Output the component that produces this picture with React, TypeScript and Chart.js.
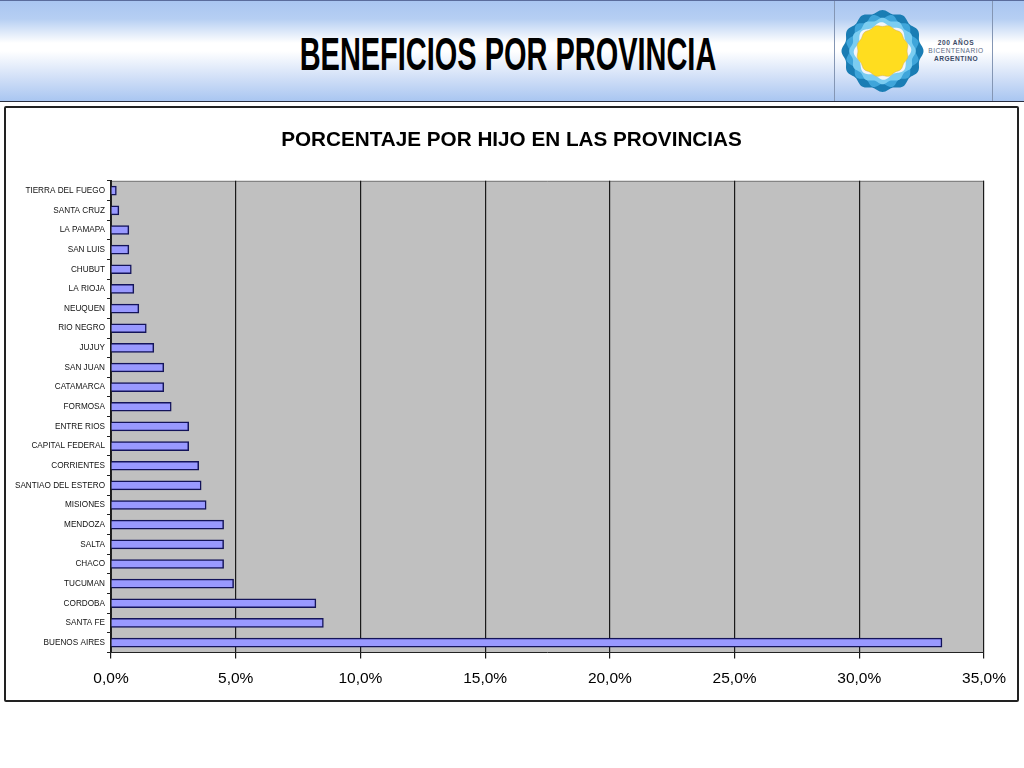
import React, { useEffect, useRef } from "react";
import { Chart, registerables } from "chart.js";

Chart.register(...registerables);

const provinces = [
  "TIERRA DEL FUEGO", "SANTA CRUZ", "LA PAMAPA", "SAN LUIS", "CHUBUT", "LA RIOJA",
  "NEUQUEN", "RIO NEGRO", "JUJUY", "SAN JUAN", "CATAMARCA", "FORMOSA", "ENTRE RIOS",
  "CAPITAL FEDERAL", "CORRIENTES", "SANTIAO DEL ESTERO", "MISIONES", "MENDOZA",
  "SALTA", "CHACO", "TUCUMAN", "CORDOBA", "SANTA FE", "BUENOS AIRES",
];
const percentages = [
  0.2, 0.3, 0.7, 0.7, 0.8, 0.9, 1.1, 1.4, 1.7, 2.1, 2.1, 2.4, 3.1, 3.1, 3.5, 3.6,
  3.8, 4.5, 4.5, 4.5, 4.9, 8.2, 8.5, 33.3,
];
const chartTitle = "PORCENTAJE POR HIJO EN LAS PROVINCIAS";
const pageTitle = "BENEFICIOS POR PROVINCIA";
const logoLines = ["200 AÑOS", "BICENTENARIO", "ARGENTINO"];

const FONT = '"Liberation Sans", Arial, sans-serif';

const plotBackground = {
  id: "plotBackground",
  afterLayout(chart: any) {
    // the long province labels run past the axis box, so let them draw there
    chart.scales.y.left = 0;
  },
  beforeDraw(chart: any) {
    const { ctx, chartArea: a } = chart;
    ctx.save();
    ctx.fillStyle = "#C0C0C0";
    ctx.fillRect(a.left, a.top, a.right - a.left, a.bottom - a.top);
    ctx.strokeStyle = "#777777";
    ctx.lineWidth = 1;
    ctx.beginPath();
    ctx.moveTo(a.left, a.top + 0.5);
    ctx.lineTo(a.right, a.top + 0.5);
    ctx.moveTo(a.right - 0.5, a.top);
    ctx.lineTo(a.right - 0.5, a.bottom);
    ctx.stroke();
    ctx.restore();
  },
};

function wavy(cx: number, cy: number, r: number, amp: number, lobes: number, phase: number) {
  let d = "";
  for (let i = 0; i < 180; i++) {
    const t = (i / 180) * Math.PI * 2;
    const rr = r + amp * Math.cos(lobes * t + phase);
    d += `${i ? "L" : "M"}${(cx + rr * Math.cos(t)).toFixed(2)} ${(cy + rr * Math.sin(t)).toFixed(2)}`;
  }
  return d + "Z";
}

function Logo() {
  const cx = 882.5;
  const cy = 51;
  return (
    <svg width={1024} height={102} style={{ position: "absolute", left: 0, top: 0 }}>
      <path d={wavy(cx, cy, 39.5, 1.5, 12, 0)} fill="#1A7DB4" />
      <path d={wavy(cx, cy, 35, 2.2, 12, Math.PI)} fill="#3FA5DA" />
      <path d={wavy(cx, cy, 32, 1.3, 12, 0)} fill="#7BCDF1" />
      <path d={wavy(cx, cy, 27, 1.8, 8, 0.4)} fill="#F4F5F8" />
      <path d={wavy(cx, cy, 25.3, 0.7, 12, Math.PI)} fill="#FFDD1F" stroke="#C9A864" strokeWidth={0.5} />
      <text x={956} y={45} textAnchor="middle" fontFamily={FONT} fontWeight="bold" fontSize={6.6} fill="#3B4A66" letterSpacing={0.6}>{logoLines[0]}</text>
      <text x={956} y={53} textAnchor="middle" fontFamily={FONT} fontSize={6.6} fill="#5C6B85" letterSpacing={0.5}>{logoLines[1]}</text>
      <text x={956} y={61} textAnchor="middle" fontFamily={FONT} fontWeight="bold" fontSize={6.6} fill="#3B4A66" letterSpacing={0.5}>{logoLines[2]}</text>
    </svg>
  );
}

export default function App() {
  const ref = useRef<HTMLCanvasElement | null>(null);

  useEffect(() => {
    const chart = new Chart(ref.current!, {
      type: "bar",
      data: {
        labels: provinces,
        datasets: [
          {
            data: percentages,
            backgroundColor: "#9999FF",
            borderColor: "#14145A",
            borderWidth: 1.5,
            inflateAmount: 0.7,
            barPercentage: 0.42,
            categoryPercentage: 1,
          },
        ],
      },
      plugins: [plotBackground],
      options: {
        indexAxis: "y",
        animation: false,
        responsive: false,
        devicePixelRatio: 1,
        layout: { padding: { top: 120, right: 40, bottom: 69, left: 39 } },
        plugins: {
          legend: { display: false },
          tooltip: { enabled: false },
          title: {
            display: true,
            text: chartTitle,
            color: "#000000",
            font: { family: FONT, size: 20.7, weight: "bold" },
            padding: { top: 8, bottom: 28 },
          },
        },
        scales: {
          x: {
            min: 0,
            max: 35,
            border: { display: true, color: "#222222", width: 1 },
            grid: { display: true, color: "#1A1A1A", lineWidth: 1.2, tickLength: 6, drawTicks: true },
            ticks: {
              stepSize: 5,
              color: "#000000",
              padding: 11,
              maxRotation: 0,
              font: { family: FONT, size: 15.5 },
              callback: (v: any) => Number(v).toFixed(1).replace(".", ",") + "%",
            },
          },
          y: {
            border: { display: true, color: "#222222", width: 1 },
            grid: { display: true, offset: true, drawOnChartArea: false, color: "#222222", tickLength: 4 },
            afterFit(scale: any) {
              scale.width = 72;
            },
            ticks: {
              autoSkip: false,
              color: "#111111",
              padding: 2,
              font: { family: FONT, size: 8.2 },
            },
          },
        },
      } as any,
    });
    return () => chart.destroy();
  }, []);

  return (
    <div style={{ position: "absolute", left: 0, top: 0, width: 1024, height: 768, background: "#fff", overflow: "hidden" }}>
      <div
        style={{
          position: "absolute",
          left: 0,
          top: 0,
          width: 1024,
          height: 102,
          boxSizing: "border-box",
          borderTop: "1px solid #5A6C9C",
          borderBottom: "1px solid #2A2F40",
          background: "linear-gradient(180deg,#A9C6F1 0%,#B6CFF3 18%,#FFFFFF 42%,#FFFFFF 50%,#CFDEF7 78%,#A9C6F1 100%)",
        }}
      />
      <div style={{ position: "absolute", left: 834, top: 1, width: 1, height: 100, background: "#8496B4" }} />
      <div style={{ position: "absolute", left: 992, top: 1, width: 1, height: 100, background: "#8496B4" }} />
      <Logo />
      <div
        style={{
          position: "absolute",
          left: 0,
          top: 27,
          width: 1016,
          textAlign: "center",
          fontFamily: FONT,
          fontWeight: "bold",
          fontSize: 47,
          lineHeight: "54px",
          color: "#000",
          transform: "scaleX(0.616)",
          whiteSpace: "nowrap",
        }}
      >
        {pageTitle}
      </div>
      <div
        style={{
          position: "absolute",
          left: 4,
          top: 106,
          width: 1015,
          height: 596,
          boxSizing: "border-box",
          border: "2px solid #222222",
          borderRadius: 2,
        }}
      />
      <canvas ref={ref} width={1024} height={768} style={{ position: "absolute", left: 0, top: 0, width: 1024, height: 768 }} />
    </div>
  );
}
